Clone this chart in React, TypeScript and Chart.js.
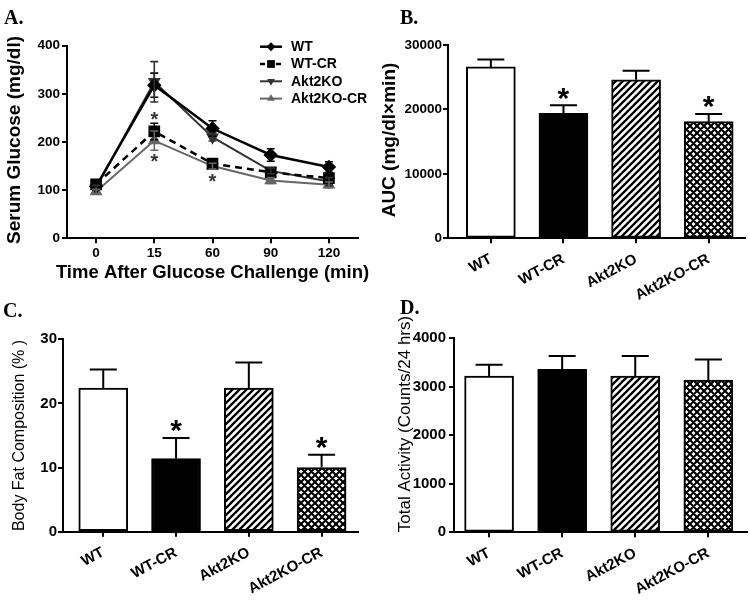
import React, { useEffect, useRef } from "react";
import { Chart, registerables } from "chart.js";

Chart.register(...registerables);

const SANS = "'Liberation Sans', Arial, Helvetica, sans-serif";
const SERIF = "'Liberation Serif', 'Times New Roman', serif";
Chart.defaults.font.family = SANS;
Chart.defaults.color = "#000";

// ---------- Panel A: glucose tolerance ----------
const timePoints = ["0", "15", "60", "90", "120"];
const glucoseTicks = [0, 100, 200, 300, 400];
const wtGlucose = [108, 318, 228, 173, 148];
const wtGlucoseErr = [6, 25, 16, 13, 11];
const wtcrGlucose = [112, 222, 155, 137, 125];
const wtcrGlucoseErr = [5, 17, 6, 6, 8];
const koGlucose = [105, 325, 210, 140, 118];
const koGlucoseErr = [5, 42, 8, 6, 8];
const kocrGlucose = [97, 203, 150, 120, 111];
const kocrGlucoseErr = [5, 20, 6, 6, 6];
// significance marks: [time index, glucose value]
const glucoseStars: [number, number][] = [
  [1, 258],
  [1, 170],
  [2, 128],
];

// ---------- Bar panels ----------
const groups = ["WT", "WT-CR", "Akt2KO", "Akt2KO-CR"];
const aucTicks = [0, 10000, 20000, 30000];
const auc = [26600, 19400, 24600, 18100];
const aucErr = [1150, 1250, 1400, 1200];
const aucStars = [false, true, false, true];

const fatTicks = [0, 10, 20, 30];
const bodyFat = [22.4, 11.4, 22.4, 10.0];
const bodyFatErr = [2.9, 3.2, 4.0, 2.0];
const bodyFatStars = [false, true, false, true];

const activityTicks = [0, 1000, 2000, 3000, 4000];
const activity = [3220, 3360, 3220, 3140];
const activityErr = [235, 275, 415, 425];
const activityStars = [false, false, false, false];

// ---------- helpers ----------
type Ctx = CanvasRenderingContext2D;

function makeHatch(ctx: Ctx): CanvasPattern {
  const s = 7;
  const c = document.createElement("canvas");
  c.width = s;
  c.height = s;
  const g = c.getContext("2d")!;
  g.fillStyle = "#fff";
  g.fillRect(0, 0, s, s);
  g.strokeStyle = "#000";
  g.lineWidth = 2.3;
  g.beginPath();
  for (const k of [0, s, 2 * s]) {
    g.moveTo(k - s - 2, s + 2);
    g.lineTo(k + 2, -2);
  }
  g.stroke();
  return ctx.createPattern(c, "repeat")!;
}

function makeCross(ctx: Ctx): CanvasPattern {
  const s = 7;
  const c = document.createElement("canvas");
  c.width = s;
  c.height = s;
  const g = c.getContext("2d")!;
  g.fillStyle = "#fff";
  g.fillRect(0, 0, s, s);
  g.strokeStyle = "#000";
  g.lineWidth = 2.1;
  g.beginPath();
  for (const k of [0, s, 2 * s]) {
    g.moveTo(k - s - 2, s + 2);
    g.lineTo(k + 2, -2);
  }
  for (const k of [-s, 0, s]) {
    g.moveTo(k - 2, -2);
    g.lineTo(k + s + 2, s + 2);
  }
  g.stroke();
  return ctx.createPattern(c, "repeat")!;
}

function drawMarker(ctx: Ctx, style: string, rot: number, x: number, y: number, r: number, color: string) {
  ctx.save();
  ctx.fillStyle = color;
  ctx.beginPath();
  if (style === "rectRot") {
    ctx.moveTo(x, y - r);
    ctx.lineTo(x + r, y);
    ctx.lineTo(x, y + r);
    ctx.lineTo(x - r, y);
  } else if (style === "rect") {
    const s = r * Math.SQRT1_2;
    ctx.rect(x - s, y - s, 2 * s, 2 * s);
  } else {
    const d = rot === 180 ? -1 : 1;
    ctx.moveTo(x, y - d * r);
    ctx.lineTo(x + r * 0.866, y + d * r * 0.5);
    ctx.lineTo(x - r * 0.866, y + d * r * 0.5);
  }
  ctx.closePath();
  ctx.fill();
  ctx.restore();
}

type Title = { text: string; font: string; x: number; y: number; rot?: number };

function titlesPlugin(titles: Title[]) {
  return {
    id: "axisTitles",
    afterDraw(chart: any) {
      const ctx: Ctx = chart.ctx;
      titles.forEach((t) => {
        ctx.save();
        ctx.translate(t.x, t.y);
        ctx.rotate(t.rot || 0);
        ctx.font = t.font;
        ctx.fillStyle = "#000";
        ctx.textAlign = "center";
        ctx.textBaseline = "middle";
        ctx.fillText(t.text, 0, 0);
        ctx.restore();
      });
    },
  };
}

function fixedTicks(values: number[]) {
  return (scale: any) => {
    scale.ticks = values.map((v) => ({ value: v }));
  };
}

const axisGrid = (tickLength: number) => ({
  display: true,
  drawOnChartArea: false,
  drawTicks: true,
  tickLength,
  color: "#000",
  lineWidth: 2,
  offset: false,
});
const axisBorder = { display: true, color: "#000", width: 2 };

// ---------- Panel A config ----------
function buildA(ctx: Ctx): any {
  const series = [
    { label: "WT", data: wtGlucose, err: wtGlucoseErr, color: "#000", width: 2.5, dash: [] as number[], style: "rectRot", rot: 0, r: 5.5 },
    { label: "WT-CR", data: wtcrGlucose, err: wtcrGlucoseErr, color: "#000", width: 2.5, dash: [7, 5], style: "rect", rot: 0, r: 6.5 },
    { label: "Akt2KO", data: koGlucose, err: koGlucoseErr, color: "#333", width: 2, dash: [] as number[], style: "triangle", rot: 180, r: 5.5 },
    { label: "Akt2KO-CR", data: kocrGlucose, err: kocrGlucoseErr, color: "#666", width: 2, dash: [] as number[], style: "triangle", rot: 0, r: 5.5 },
  ];
  const errPlugin = {
    id: "lineErr",
    afterDatasetsDraw(chart: any) {
      const c: Ctx = chart.ctx;
      const ys = chart.scales.y;
      series.forEach((s, i) => {
        const meta = chart.getDatasetMeta(i);
        meta.data.forEach((pt: any, j: number) => {
          const t = ys.getPixelForValue(s.data[j] + s.err[j]);
          const b = ys.getPixelForValue(s.data[j] - s.err[j]);
          c.save();
          c.strokeStyle = s.color;
          c.lineWidth = 1.6;
          c.beginPath();
          c.moveTo(pt.x, t);
          c.lineTo(pt.x, b);
          c.moveTo(pt.x - 4, t);
          c.lineTo(pt.x + 4, t);
          c.moveTo(pt.x - 4, b);
          c.lineTo(pt.x + 4, b);
          c.stroke();
          c.restore();
        });
      });
      // significance marks
      const xs = chart.scales.x;
      c.save();
      c.font = `bold 20px ${SANS}`;
      c.fillStyle = "#333";
      c.textAlign = "center";
      c.textBaseline = "alphabetic";
      glucoseStars.forEach(([idx, val]) => {
        c.fillText("*", xs.getPixelForValue(idx), ys.getPixelForValue(val) + 0.58 * 20);
      });
      c.restore();
    },
  };
  const legendPlugin = {
    id: "innerLegend",
    afterDraw(chart: any) {
      const c: Ctx = chart.ctx;
      series.forEach((s, i) => {
        const y = 46.7 + i * 17.3;
        c.save();
        c.strokeStyle = s.color;
        c.lineWidth = s.width;
        c.setLineDash(s.dash.length ? [5, 3] : []);
        c.beginPath();
        c.moveTo(260, y);
        c.lineTo(282, y);
        c.stroke();
        c.restore();
        drawMarker(c, s.style, s.rot, 271, y, s.r - 1, s.color);
        c.save();
        c.font = `bold 14px ${SANS}`;
        c.fillStyle = "#000";
        c.textAlign = "left";
        c.textBaseline = "middle";
        c.fillText(s.label, 291, y + 0.5);
        c.restore();
      });
    },
  };
  return {
    type: "line",
    data: {
      labels: timePoints,
      datasets: series.map((s) => ({
        label: s.label,
        data: s.data,
        borderColor: s.color,
        backgroundColor: s.color,
        pointBackgroundColor: s.color,
        pointBorderColor: s.color,
        borderWidth: s.width,
        borderDash: s.dash,
        pointStyle: s.style,
        pointRotation: s.rot,
        pointRadius: s.r,
        tension: 0,
      })),
    },
    options: {
      animation: false,
      responsive: false,
      maintainAspectRatio: false,
      layout: { padding: { left: 0, top: 45.7, right: 17, bottom: 0 } },
      plugins: { legend: { display: false }, tooltip: { enabled: false } },
      scales: {
        x: {
          type: "category",
          offset: true,
          grid: axisGrid(5),
          border: axisBorder,
          ticks: { font: { size: 13.5, weight: "bold" }, color: "#000", padding: 2, maxRotation: 0, autoSkip: false },
          afterFit: (s: any) => {
            s.height = 61.7;
          },
        },
        y: {
          min: glucoseTicks[0],
          max: glucoseTicks[glucoseTicks.length - 1],
          afterBuildTicks: fixedTicks(glucoseTicks),
          grid: axisGrid(5),
          border: axisBorder,
          ticks: { font: { size: 13.5, weight: "bold" }, color: "#000", padding: 2, callback: (v: any) => String(v) },
          afterFit: (s: any) => {
            s.width = 67;
          },
        },
      },
    },
    plugins: [
      errPlugin,
      legendPlugin,
      titlesPlugin([
        { text: "Serum Glucose (mg/dl)", font: `bold 19px ${SANS}`, x: 15, y: 140, rot: -Math.PI / 2 },
        { text: "Time After Glucose Challenge (min)", font: `bold 18.5px ${SANS}`, x: 212.5, y: 273 },
      ]),
    ],
  };
}

// ---------- Bar panel config ----------
type BarSpec = {
  values: number[];
  errs: number[];
  stars: boolean[];
  ticks: number[];
  xMin: number;
  xMax: number;
  padTop: number;
  padRight: number;
  yWidth: number;
  xHeight: number;
  yTickSize: number;
  yTickPad: number;
  starSize: number;
  title: Title;
};

function buildBar(ctx: Ctx, spec: BarSpec): any {
  const fills = ["#fff", "#000", makeHatch(ctx), makeCross(ctx)];
  const errPlugin = {
    id: "barErr",
    afterDatasetsDraw(chart: any) {
      const c: Ctx = chart.ctx;
      const ys = chart.scales.y;
      const meta = chart.getDatasetMeta(0);
      meta.data.forEach((bar: any, i: number) => {
        const top = ys.getPixelForValue(spec.values[i] + spec.errs[i]);
        const base = ys.getPixelForValue(spec.values[i]);
        c.save();
        c.strokeStyle = "#000";
        c.lineWidth = 2;
        c.beginPath();
        c.moveTo(bar.x, base);
        c.lineTo(bar.x, top);
        c.moveTo(bar.x - 13.5, top);
        c.lineTo(bar.x + 13.5, top);
        c.stroke();
        if (spec.stars[i]) {
          c.font = `bold ${spec.starSize}px ${SANS}`;
          c.fillStyle = "#000";
          c.textAlign = "center";
          c.textBaseline = "alphabetic";
          c.fillText("*", bar.x, top - 15 + 0.58 * spec.starSize);
        }
        c.restore();
      });
    },
  };
  return {
    type: "bar",
    data: {
      datasets: [
        {
          data: spec.values.map((v, i) => ({ x: i, y: v })),
          backgroundColor: fills,
          borderColor: "#000",
          borderWidth: 2,
          borderSkipped: false,
          barThickness: 49,
        },
      ],
    },
    options: {
      animation: false,
      responsive: false,
      maintainAspectRatio: false,
      layout: { padding: { left: 0, top: spec.padTop, right: spec.padRight, bottom: 0 } },
      plugins: { legend: { display: false }, tooltip: { enabled: false } },
      scales: {
        x: {
          type: "linear",
          offset: false,
          bounds: "data",
          min: spec.xMin,
          max: spec.xMax,
          afterBuildTicks: fixedTicks(groups.map((_, i) => i)),
          grid: axisGrid(5),
          border: axisBorder,
          ticks: {
            font: { size: 15, weight: "bold" },
            color: "#000",
            padding: 7,
            autoSkip: false,
            minRotation: 28,
            maxRotation: 28,
            callback: (_v: any, i: number) => groups[i],
          },
          afterFit: (s: any) => {
            s.height = spec.xHeight;
          },
        },
        y: {
          min: spec.ticks[0],
          max: spec.ticks[spec.ticks.length - 1],
          afterBuildTicks: fixedTicks(spec.ticks),
          grid: axisGrid(5),
          border: axisBorder,
          ticks: { font: { size: spec.yTickSize, weight: "bold" }, color: "#000", padding: spec.yTickPad, callback: (v: any) => String(v) },
          afterFit: (s: any) => {
            s.width = spec.yWidth;
          },
        },
      },
    },
    plugins: [errPlugin, titlesPlugin([spec.title])],
  };
}

const buildB = (ctx: Ctx) =>
  buildBar(ctx, {
    values: auc,
    errs: aucErr,
    stars: aucStars,
    ticks: aucTicks,
    xMin: -0.59,
    xMax: 3.5,
    padTop: 45,
    padRight: 5,
    yWidth: 73,
    xHeight: 320 - 238.3,
    yTickSize: 13.5,
    yTickPad: 1,
    starSize: 30,
    title: { text: "AUC (mg/dl\u00d7min)", font: `bold 19px ${SANS}`, x: 15, y: 140, rot: -Math.PI / 2 },
  });

const buildC = (ctx: Ctx) =>
  buildBar(ctx, {
    values: bodyFat,
    errs: bodyFatErr,
    stars: bodyFatStars,
    ticks: fatTicks,
    xMin: -0.553,
    xMax: 3.5,
    padTop: 39.3,
    padRight: 17,
    yWidth: 63,
    xHeight: 303 - 231.7,
    yTickSize: 15,
    yTickPad: 1,
    starSize: 30,
    title: { text: "Body Fat Composition (% )", font: `16px ${SANS}`, x: 20, y: 135.5, rot: -Math.PI / 2 },
  });

const buildD = (ctx: Ctx) =>
  buildBar(ctx, {
    values: activity,
    errs: activityErr,
    stars: activityStars,
    ticks: activityTicks,
    xMin: -0.48,
    xMax: 3.525,
    padTop: 38.3,
    padRight: 3.3,
    yWidth: 79,
    xHeight: 303 - 232.3,
    yTickSize: 15,
    yTickPad: 3,
    starSize: 30,
    title: { text: "Total Activity (Counts/24 hrs)", font: `17px ${SANS}`, x: 30, y: 124, rot: -Math.PI / 2 },
  });

// ---------- components ----------
function ChartCanvas(props: { left: number; top: number; width: number; height: number; build: (ctx: Ctx) => any }) {
  const ref = useRef<HTMLCanvasElement>(null);
  useEffect(() => {
    const canvas = ref.current!;
    const chart = new Chart(canvas, props.build(canvas.getContext("2d")!));
    return () => chart.destroy();
  }, []);
  return (
    <canvas
      ref={ref}
      width={props.width}
      height={props.height}
      style={{ position: "absolute", left: props.left, top: props.top, width: props.width, height: props.height }}
    />
  );
}

function PanelLetter(props: { text: string; left: number; top: number }) {
  return (
    <div
      style={{
        position: "absolute",
        left: props.left,
        top: props.top,
        font: `bold 20px ${SERIF}`,
        lineHeight: "20px",
        color: "#000",
      }}
    >
      {props.text}
    </div>
  );
}

export default function App() {
  return (
    <div style={{ position: "absolute", left: 0, top: 0, width: 750, height: 603, background: "#fff", overflow: "hidden" }}>
      <ChartCanvas left={0} top={0} width={375} height={300} build={buildA} />
      <ChartCanvas left={375} top={0} width={375} height={320} build={buildB} />
      <ChartCanvas left={0} top={300} width={375} height={303} build={buildC} />
      <ChartCanvas left={375} top={300} width={375} height={303} build={buildD} />
      <PanelLetter text="A." left={4} top={6.5} />
      <PanelLetter text="B." left={400} top={6.5} />
      <PanelLetter text="C." left={3} top={299.5} />
      <PanelLetter text="D." left={400} top={296.5} />
    </div>
  );
}
